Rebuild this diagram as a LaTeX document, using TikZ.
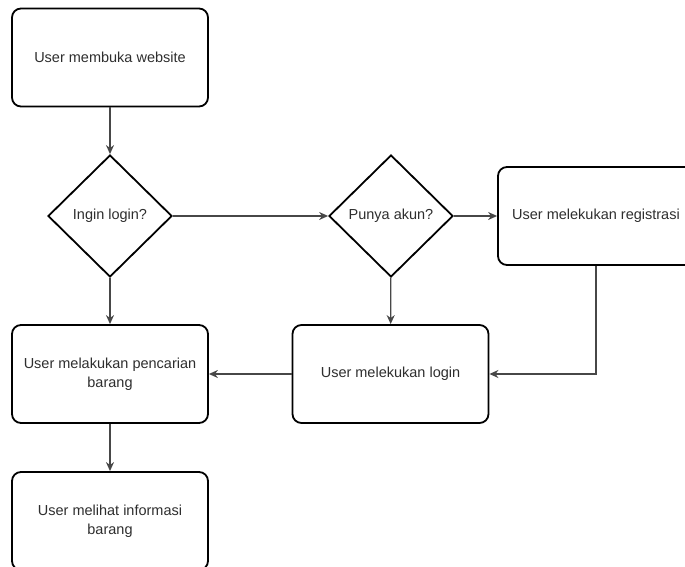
\documentclass[tikz,border=0pt]{standalone}
\usepackage{fontspec}
\setmainfont{Liberation Sans}
\usetikzlibrary{positioning, shapes.geometric, arrows.meta}

\begin{document}
\begin{tikzpicture}[x=1pt,y=1pt]
\colorlet{flowgray}{black!72}
\colorlet{labelgray}{black!82}
\tikzset{
  stepbox/.style={draw, line width=1.8pt, rounded corners=9pt,
    minimum width=196pt, minimum height=98pt, align=center,
    text=labelgray, font=\fontsize{14.5}{19}\selectfont},
  decision/.style={draw, diamond, aspect=1, line width=1.8pt,
    minimum width=124pt, minimum height=122pt, inner sep=0pt,
    text=labelgray, font=\fontsize{14.5}{19}\selectfont},
  flow/.style={draw=flowgray, line width=1.2pt,
    -{Stealth[length=9pt, width=8pt]}}
}
\path[use as bounding box, clip] (0,0) rectangle (685,567);

\node[stepbox] (open) at (110,509.5) {User membuka website};
\node[decision] (wantlogin) at (110,351) {Ingin login?};
\node[decision] (hasaccount) at (391,351) {Punya akun?};
\node[stepbox] (register) at (596,351) {User melekukan registrasi};
\node[stepbox] (login) at (390.5,193) {User melekukan login};
\node[stepbox] (search) at (110,193) {User melakukan pencarian\\barang};
\node[stepbox] (info) at (110,46) {User melihat informasi\\barang};

\draw[flow] (open) -- (wantlogin);
\draw[flow] (wantlogin) -- (hasaccount);
\draw[flow] (hasaccount) -- (register);
\draw[flow] (wantlogin) -- (search);
\draw[flow] (hasaccount) -- (login);
\draw[flow] (register.south) |- (login.east);
\draw[flow] (login) -- (search);
\draw[flow] (search) -- (info);
\end{tikzpicture}
\end{document}
